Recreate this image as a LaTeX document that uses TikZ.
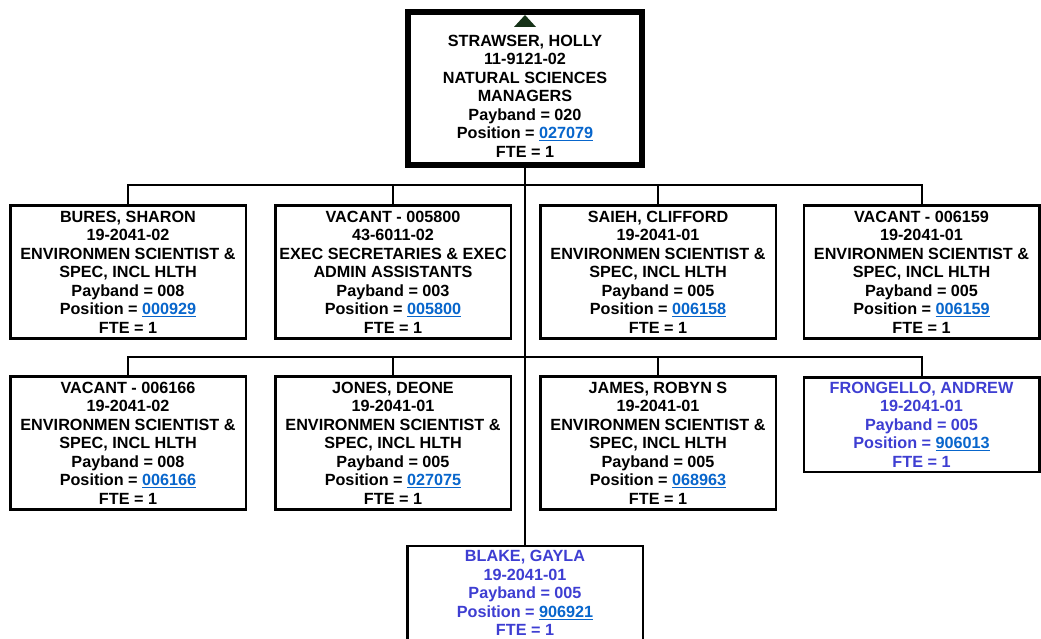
\documentclass[tikz,border=0pt]{standalone}
\usepackage{fontspec}
\setmainfont{Liberation Sans}
\definecolor{linkblue}{RGB}{8,102,204}
\definecolor{newblue}{RGB}{62,62,210}
\definecolor{tridark}{RGB}{22,50,24}
\newcommand{\poslink}[1]{{\color{linkblue}\underline{#1}}}

\begin{document}
\begin{tikzpicture}[x=1pt,y=-1pt,
	box/.style={draw=black,line width=2.5pt,fill=white,align=center,inner sep=0pt,minimum width=235.5pt,minimum height=133pt,font=\fontsize{16.2}{18.5}\selectfont\bfseries},
	newbox/.style={box,minimum height=94.5pt,text=newblue},
	link/.style={line width=2pt}]
	\path[use as bounding box,fill=white] (0,0) rectangle (1041,639);

	%manager
	\node[box,line width=6pt,minimum width=234pt,minimum height=152.5pt] (mgr) at (525,88.75) {};
	\node[align=center,inner sep=0pt,font=\fontsize{16.2}{18.5}\selectfont\bfseries] (mgrtxt) at (525,96.3) {STRAWSER, HOLLY\\11-9121-02\\NATURAL SCIENCES\\MANAGERS\\Payband = 020\\Position = \poslink{027079}\\FTE = 1};
	\fill[tridark] ([shift={(-11,17.5)}]mgr.north) -- ([shift={(11,17.5)}]mgr.north) -- ([shift={(0,5.5)}]mgr.north) -- cycle;

	%row1
	\node[box] (bures) at (128,272) {BURES, SHARON\\19-2041-02\\ENVIRONMEN SCIENTIST \&\\SPEC, INCL HLTH\\Payband = 008\\Position = \poslink{000929}\\FTE = 1};
	\node[box] (vac5800) at (393,272) {VACANT - 005800\\43-6011-02\\EXEC SECRETARIES \& EXEC\\ADMIN ASSISTANTS\\Payband = 003\\Position = \poslink{005800}\\FTE = 1};
	\node[box] (saieh) at (658,272) {SAIEH, CLIFFORD\\19-2041-01\\ENVIRONMEN SCIENTIST \&\\SPEC, INCL HLTH\\Payband = 005\\Position = \poslink{006158}\\FTE = 1};
	\node[box] (vac6159) at (921.5,272) {VACANT - 006159\\19-2041-01\\ENVIRONMEN SCIENTIST \&\\SPEC, INCL HLTH\\Payband = 005\\Position = \poslink{006159}\\FTE = 1};

	%row2
	\node[box] (vac6166) at (128,443) {VACANT - 006166\\19-2041-02\\ENVIRONMEN SCIENTIST \&\\SPEC, INCL HLTH\\Payband = 008\\Position = \poslink{006166}\\FTE = 1};
	\node[box] (jones) at (393,443) {JONES, DEONE\\19-2041-01\\ENVIRONMEN SCIENTIST \&\\SPEC, INCL HLTH\\Payband = 005\\Position = \poslink{027075}\\FTE = 1};
	\node[box] (james) at (658,443) {JAMES, ROBYN S\\19-2041-01\\ENVIRONMEN SCIENTIST \&\\SPEC, INCL HLTH\\Payband = 005\\Position = \poslink{068963}\\FTE = 1};
	\node[newbox] (frongello) at (921.5,424.5) {FRONGELLO, ANDREW\\19-2041-01\\Payband = 005\\Position = \poslink{906013}\\FTE = 1};

	%bottom
	\node[newbox] (blake) at (525,593) {BLAKE, GAYLA\\19-2041-01\\Payband = 005\\Position = \poslink{906921}\\FTE = 1};

	%lines
	\coordinate (bus1) at (525,185.5);
	\coordinate (bus2) at (525,357);
	\begin{scope}[on background layer/.try]
	\draw[link] (mgr.south) -- (blake.north);
	\draw[link] (bures.north) |- (bus1) -| (vac6159.north);
	\draw[link] (vac5800.north) -- (vac5800.north |- bus1);
	\draw[link] (saieh.north) -- (saieh.north |- bus1);
	\draw[link] (vac6166.north) |- (bus2) -| (frongello.north);
	\draw[link] (jones.north) -- (jones.north |- bus2);
	\draw[link] (james.north) -- (james.north |- bus2);
	\end{scope}
\end{tikzpicture}
\end{document}
